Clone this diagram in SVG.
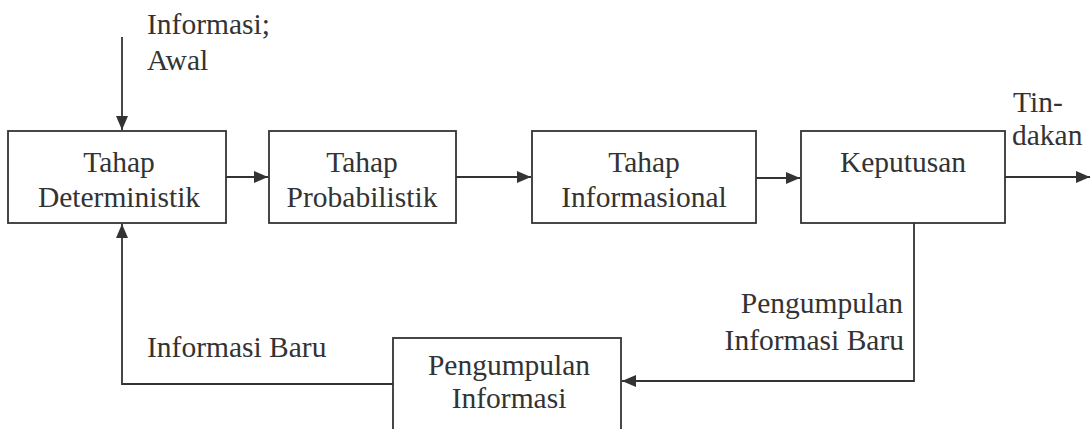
<svg xmlns="http://www.w3.org/2000/svg" width="1090" height="429" viewBox="0 0 1090 429" font-family="'Liberation Serif', 'DejaVu Serif', serif">
<defs>
<style>
.box{fill:#fff;stroke:#333;stroke-width:1.8}
.ln{fill:none;stroke:#333;stroke-width:1.8}
text{font-family:'Liberation Serif','DejaVu Serif',serif;font-size:29.5px;fill:#333}
.c{text-anchor:middle}
.r{text-anchor:end}
</style>
<marker id="ah" viewBox="0 0 14 12" refX="14" refY="6" markerWidth="14" markerHeight="12" markerUnits="userSpaceOnUse" orient="auto">
<path d="M0,0 L14,6 L0,12 Z" fill="#333"/>
</marker>
</defs>
<rect width="1090" height="429" fill="#fff"/>
<g id="connectors">
<line class="ln" x1="122" y1="37" x2="122" y2="130" marker-end="url(#ah)"/>
<line class="ln" x1="226" y1="177" x2="268" y2="177" marker-end="url(#ah)"/>
<line class="ln" x1="456" y1="177" x2="531" y2="177" marker-end="url(#ah)"/>
<line class="ln" x1="756" y1="178" x2="800" y2="178" marker-end="url(#ah)"/>
<line class="ln" x1="1005" y1="177" x2="1090" y2="177" marker-end="url(#ah)"/>
<polyline class="ln" points="914,223 914,381 622,381" marker-end="url(#ah)"/>
<polyline class="ln" points="393,384 122,384 122,224" marker-end="url(#ah)"/>
<text x="147" y="34">Informasi;</text>
<text x="147" y="70">Awal</text>
<text x="1013" y="112">Tin-</text>
<text x="1012" y="145">dakan</text>
<text x="147" y="357">Informasi Baru</text>
<text class="r" x="903" y="313">Pengumpulan</text>
<text class="r" x="904" y="350">Informasi Baru</text>
</g>
<g id="n1">
<rect class="box" x="8" y="131" width="218" height="92"/>
<text class="c" x="119" y="172">Tahap</text>
<text class="c" x="119" y="207">Deterministik</text>
</g>
<g id="n2">
<rect class="box" x="269" y="131" width="187" height="92"/>
<text class="c" x="362" y="172">Tahap</text>
<text class="c" x="362" y="207">Probabilistik</text>
</g>
<g id="n3">
<rect class="box" x="532" y="131" width="224" height="92"/>
<text class="c" x="644" y="172">Tahap</text>
<text class="c" x="644" y="207">Informasional</text>
</g>
<g id="n4">
<rect class="box" x="801" y="131" width="204" height="92"/>
<text class="c" x="903" y="172">Keputusan</text>
</g>
<g id="n5">
<rect class="box" x="393" y="338" width="228" height="100"/>
<text class="c" x="509" y="375">Pengumpulan</text>
<text class="c" x="509" y="408">Informasi</text>
</g>
</svg>
